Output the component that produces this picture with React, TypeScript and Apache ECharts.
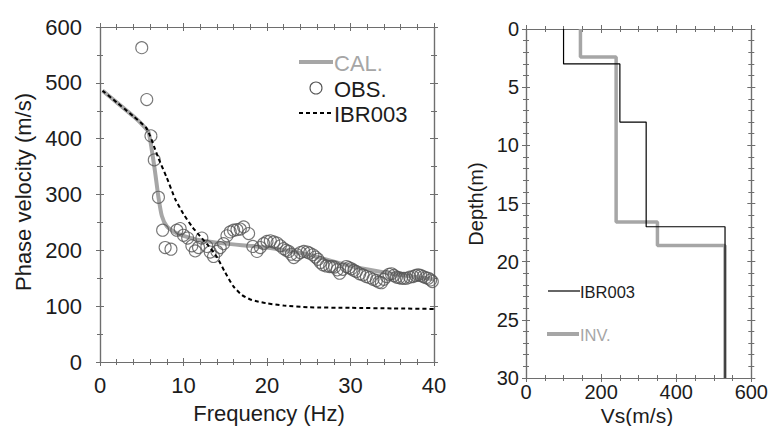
import React, { useEffect, useRef } from "react";
import * as echarts from "echarts";

// ---- Left panel: dispersion curves ----
const calFreq = [0.3, 2, 4, 5, 5.8, 6.2, 6.6, 7.0, 7.4, 8, 9, 10, 12, 15, 18, 20, 25, 30, 35, 40];
const calVel = [486, 465, 440, 426, 412, 380, 340, 295, 262, 243, 232, 226, 218, 212, 208, 205, 192, 172, 158, 148];

const ibrFreq = [0.3, 2, 4, 5.5, 6, 6.5, 7, 8, 9, 10, 11, 12, 13, 14, 15, 16, 17, 18, 19, 20, 22, 25, 30, 35, 40];
const ibrVel = [486, 465, 440, 420, 405, 385, 365, 330, 292, 265, 243, 225, 208, 188, 160, 135, 120, 112, 108, 105, 101, 98, 97, 96, 95];

const obsFreq = [
  5.0, 5.6, 6.1, 6.5, 7.0, 7.5, 7.8, 8.5, 9.2, 9.6, 10.0, 10.5, 11.0, 11.4, 11.8, 12.2, 12.8, 13.2, 13.6, 14.0,
  14.4, 14.8, 15.2, 15.6, 16.0, 16.4, 16.8, 17.2, 17.8, 18.3, 18.8, 19.2, 19.6, 20.0, 20.4, 20.8, 21.2, 21.6, 22.0, 22.3,
  22.6, 22.9, 23.2, 23.6, 24.0, 24.4, 24.8, 25.1, 25.5, 25.8, 26.1, 26.4, 26.7, 27.1, 27.5, 27.8, 28.1, 28.4, 28.7, 29.1,
  29.5, 29.8, 30.1, 30.4, 30.7, 31.1, 31.5, 31.9, 32.3, 32.7, 33.1, 33.4, 33.7, 34.0, 34.3, 34.6, 34.9, 35.2, 35.5, 35.8,
  36.1, 36.4, 36.7, 37.1, 37.5, 37.8, 38.1, 38.4, 38.7, 39.0, 39.3, 39.6, 39.8,
];
const obsVel = [
  563, 470, 405, 362, 295, 236, 205, 202, 236, 239, 227, 222, 208, 199, 205, 222, 207, 197, 189, 198,
  205, 212, 226, 233, 236, 237, 238, 242, 230, 207, 198, 205, 212, 216, 217, 215, 213, 208, 203, 200,
  198, 193, 187, 192, 196, 198, 197, 195, 192, 188, 184, 178, 174, 172, 171, 171, 170, 165, 159, 166,
  171, 169, 167, 164, 162, 158, 156, 153, 151, 148, 146, 143, 142, 148, 153, 157, 158, 155, 152, 151,
  150, 150, 150, 152, 153, 155, 156, 155, 153, 151, 150, 147, 144,
];

// ---- Right panel: Vs profiles (layer boundaries and velocities) ----
const ibrDepths = [0, 3, 8, 17, 30];
const ibrVs = [100, 250, 320, 530];
const invDepths = [0, 2.4, 16.6, 18.6, 30];
const invVs = [145, 240, 350, 530];

const FONT = "'Liberation Sans', Arial, sans-serif";
const AXIS = "#6e6e6e";
const TEXT = "#1c1c1c";
const GRAY = "#a6a6a6";

function stepProfile(depths: number[], vs: number[]) {
  const pts: number[][] = [];
  for (let i = 0; i < vs.length; i++) {
    pts.push([vs[i], depths[i]]);
    pts.push([vs[i], depths[i + 1]]);
  }
  return pts;
}

function axes(
  dim: "x" | "y",
  gridIndex: number,
  min: number,
  max: number,
  interval: number,
  minorSplit: number,
  labelSize: number,
  labelMargin: number,
  inverse = false
) {
  const sides = dim === "x" ? ["bottom", "top"] : ["left", "right"];
  const out: any[] = [];
  sides.forEach((pos, si) => {
    [false, true].forEach((inside) => {
      out.push({
        type: "value",
        gridIndex,
        position: pos,
        min,
        max,
        interval,
        inverse,
        axisLine: { show: true, onZero: false, lineStyle: { color: AXIS, width: 1.2 } },
        axisTick: { show: true, inside, length: 4, lineStyle: { color: AXIS, width: 1 } },
        minorTick: { show: true, splitNumber: minorSplit, length: 3, lineStyle: { color: AXIS, width: 1 } },
        splitLine: { show: false },
        minorSplitLine: { show: false },
        axisLabel: {
          show: si === 0 && !inside,
          fontSize: labelSize,
          fontFamily: FONT,
          color: TEXT,
          margin: labelMargin,
        },
      });
    });
  });
  return out;
}

export default function App() {
  const ref = useRef<HTMLDivElement>(null);

  useEffect(() => {
    if (!ref.current) return;
    const chart = echarts.init(ref.current, undefined, { renderer: "svg" });

    const xAxis = [
      ...axes("x", 0, 0, 40, 10, 5, 22, 12),
      ...axes("x", 1, 0, 600, 200, 4, 20, 4),
    ];
    const yAxis = [
      ...axes("y", 0, 0, 600, 100, 2, 22, 18),
      ...axes("y", 1, 0, 30, 5, 5, 20, 7, true),
    ];

    const txt = (text: string, x: number, y: number, size: number, color: string, extra: any = {}) => ({
      type: "text",
      x,
      y,
      ...extra,
      style: { text, fontSize: size, fontFamily: FONT, fill: color, align: "left", verticalAlign: "middle", ...(extra.style || {}) },
    });

    chart.setOption({
      animation: false,
      backgroundColor: "#ffffff",
      grid: [
        { left: 100, top: 27, width: 334, height: 335 },
        { left: 526, top: 29, width: 226, height: 349 },
      ],
      xAxis,
      yAxis,
      series: [
        {
          type: "line",
          name: "CAL.",
          xAxisIndex: 0,
          yAxisIndex: 0,
          data: calFreq.map((f, i) => [f, calVel[i]]),
          showSymbol: false,
          smooth: 0.2,
          lineStyle: { color: GRAY, width: 4 },
          z: 2,
        },
        {
          type: "scatter",
          name: "OBS.",
          xAxisIndex: 0,
          yAxisIndex: 0,
          data: obsFreq.map((f, i) => [f, obsVel[i]]),
          symbol: "circle",
          symbolSize: 12,
          itemStyle: { color: "transparent", borderColor: "#555555", borderWidth: 1.1 },
          z: 3,
        },
        {
          type: "line",
          name: "IBR003",
          xAxisIndex: 0,
          yAxisIndex: 0,
          data: ibrFreq.map((f, i) => [f, ibrVel[i]]),
          showSymbol: false,
          smooth: 0.2,
          lineStyle: { color: "#000000", width: 2, type: [4, 3] },
          z: 4,
        },
        {
          type: "line",
          name: "INV.",
          xAxisIndex: 4,
          yAxisIndex: 4,
          data: stepProfile(invDepths, invVs),
          showSymbol: false,
          lineStyle: { color: GRAY, width: 3.5 },
          z: 2,
        },
        {
          type: "line",
          name: "IBR003 profile",
          xAxisIndex: 4,
          yAxisIndex: 4,
          data: stepProfile(ibrDepths, ibrVs),
          showSymbol: false,
          lineStyle: { color: "#000000", width: 1.2 },
          z: 3,
        },
      ],
      graphic: [
        // axis titles
        txt("Phase velocity (m/s)", 23, 192, 22, TEXT, { rotation: Math.PI / 2, style: { align: "center" } }),
        txt("Frequency (Hz)", 269, 413, 22, TEXT, { style: { align: "center" } }),
        txt("Depth(m)", 476, 204, 20, TEXT, { rotation: Math.PI / 2, style: { align: "center" } }),
        txt("Vs(m/s)", 637, 415, 21, TEXT, { style: { align: "center" } }),
        // left legend
        { type: "line", shape: { x1: 299, y1: 62, x2: 333, y2: 62 }, style: { stroke: GRAY, lineWidth: 4 } },
        txt("CAL.", 334, 63, 22, GRAY),
        { type: "circle", shape: { cx: 316, cy: 88, r: 6 }, style: { stroke: "#555555", lineWidth: 1.1, fill: "none" } },
        txt("OBS.", 334, 89, 22, TEXT),
        { type: "line", shape: { x1: 299, y1: 113, x2: 333, y2: 113 }, style: { stroke: "#000000", lineWidth: 2, lineDash: [4, 3] } },
        txt("IBR003", 334, 114, 22, TEXT),
        // right legend
        { type: "line", shape: { x1: 548, y1: 291, x2: 580, y2: 291 }, style: { stroke: "#000000", lineWidth: 1.2 } },
        txt("IBR003", 580, 292, 16.5, TEXT),
        { type: "line", shape: { x1: 547, y1: 334, x2: 579, y2: 334 }, style: { stroke: GRAY, lineWidth: 4 } },
        txt("INV.", 580, 335, 16.5, GRAY),
      ],
    });

    return () => chart.dispose();
  }, []);

  return (
    <div
      ref={ref}
      style={{ position: "fixed", left: 0, top: 0, width: 771, height: 426, background: "#fff" }}
    />
  );
}
